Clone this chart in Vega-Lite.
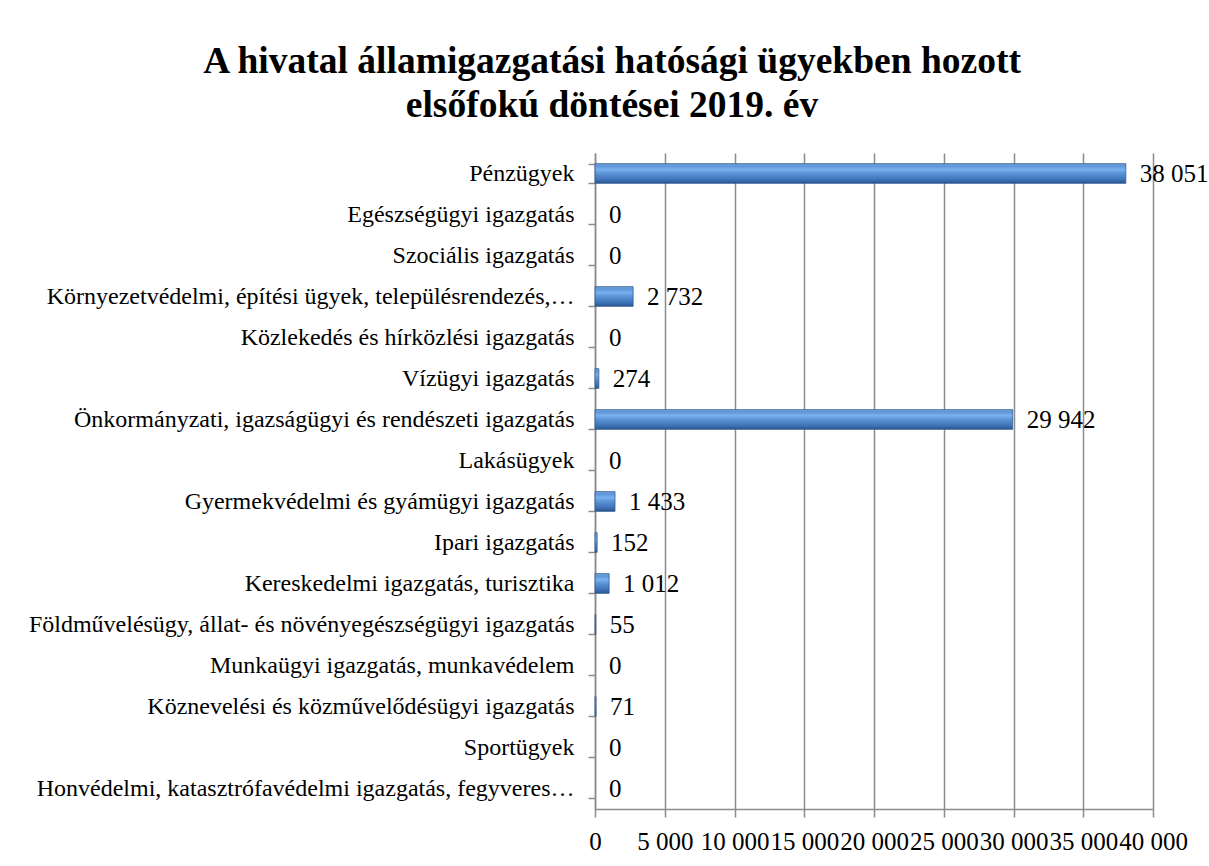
{
  "$schema": "https://vega.github.io/schema/vega-lite/v6.json",
  "width": 558,
  "height": 656,
  "autosize": {"type": "none"},
  "padding": {"left": 595, "top": 153, "right": 56, "bottom": 57},
  "background": "white",
  "title": {
    "text": ["A hivatal államigazgatási hatósági ügyekben hozott", "elsőfokú döntései 2019. év"],
    "font": "Liberation Serif",
    "fontSize": 37.5,
    "fontWeight": "bold",
    "color": "black",
    "anchor": "middle",
    "frame": "group",
    "dx": -262,
    "offset": 17,
    "lineHeight": 44
  },
  "config": {
    "locale": {"number": {"decimal": ",", "thousands": "\u00a0", "grouping": [3], "currency": ["", ""]}},
    "view": {"stroke": null},
    "font": "Liberation Serif"
  },
  "data": {
    "values": [
      {"kat": "Pénzügyek", "ertek": 38051},
      {"kat": "Egészségügyi igazgatás", "ertek": 0},
      {"kat": "Szociális igazgatás", "ertek": 0},
      {"kat": "Környezetvédelmi, építési ügyek, településrendezés,…", "ertek": 2732},
      {"kat": "Közlekedés és hírközlési igazgatás", "ertek": 0},
      {"kat": "Vízügyi igazgatás", "ertek": 274},
      {"kat": "Önkormányzati, igazságügyi és rendészeti igazgatás", "ertek": 29942},
      {"kat": "Lakásügyek", "ertek": 0},
      {"kat": "Gyermekvédelmi és gyámügyi igazgatás", "ertek": 1433},
      {"kat": "Ipari igazgatás", "ertek": 152},
      {"kat": "Kereskedelmi igazgatás, turisztika", "ertek": 1012},
      {"kat": "Földművelésügy, állat- és növényegészségügyi igazgatás", "ertek": 55},
      {"kat": "Munkaügyi igazgatás, munkavédelem", "ertek": 0},
      {"kat": "Köznevelési és közművelődésügyi igazgatás", "ertek": 71},
      {"kat": "Sportügyek", "ertek": 0},
      {"kat": "Honvédelmi, katasztrófavédelmi igazgatás, fegyveres…", "ertek": 0}
    ]
  },
  "encoding": {
    "y": {
      "field": "kat",
      "type": "nominal",
      "sort": ["Pénzügyek", "Egészségügyi igazgatás", "Szociális igazgatás", "Környezetvédelmi, építési ügyek, településrendezés,…", "Közlekedés és hírközlési igazgatás", "Vízügyi igazgatás", "Önkormányzati, igazságügyi és rendészeti igazgatás", "Lakásügyek", "Gyermekvédelmi és gyámügyi igazgatás", "Ipari igazgatás", "Kereskedelmi igazgatás, turisztika", "Földművelésügy, állat- és növényegészségügyi igazgatás", "Munkaügyi igazgatás, munkavédelem", "Köznevelési és közművelődésügyi igazgatás", "Sportügyek", "Honvédelmi, katasztrófavédelmi igazgatás, fegyveres…"],
      "scale": {"paddingInner": 0.52, "paddingOuter": 0.26},
      "axis": {
        "title": null,
        "tickBand": "extent",
        "domainColor": "#8c8c8c",
        "domainWidth": 1.5,
        "tickColor": "#8c8c8c",
        "tickWidth": 1.5,
        "tickSize": 7,
        "labelFont": "Liberation Serif",
        "labelFontSize": 24,
        "labelColor": "black",
        "labelPadding": 14,
        "labelLimit": 700,
        "grid": false
      }
    },
    "x": {
      "field": "ertek",
      "type": "quantitative",
      "scale": {"domain": [0, 40000], "nice": false},
      "axis": {
        "title": null,
        "values": [0, 5000, 10000, 15000, 20000, 25000, 30000, 35000, 40000],
        "format": ",d",
        "grid": true,
        "gridColor": "#8c8c8c",
        "gridWidth": 1.5,
        "domainColor": "#8c8c8c",
        "domainWidth": 1.5,
        "tickColor": "#8c8c8c",
        "tickWidth": 1.5,
        "tickSize": 8,
        "labelFont": "Liberation Serif",
        "labelFontSize": 25,
        "labelColor": "black",
        "labelPadding": 12,
        "labelOverlap": false,
        "labelFlush": false,
        "labelBound": false
      }
    }
  },
  "layer": [
    {
      "transform": [{"filter": "datum.ertek > 0"}],
      "mark": {
        "type": "bar",
        "stroke": "#2d5a92",
        "strokeWidth": 0.8,
        "color": {
          "gradient": "linear",
          "x1": 0, "y1": 0, "x2": 0, "y2": 1,
          "stops": [
            {"offset": 0, "color": "#7aa9dc"},
            {"offset": 0.12, "color": "#5d95d8"},
            {"offset": 0.3, "color": "#79b1ef"},
            {"offset": 0.5, "color": "#5a93d6"},
            {"offset": 0.8, "color": "#3f74b8"},
            {"offset": 1, "color": "#2b5590"}
          ]
        }
      }
    },
    {
      "mark": {
        "type": "text",
        "align": "left",
        "baseline": "middle",
        "dx": 14,
        "font": "Liberation Serif",
        "fontSize": 25,
        "color": "black"
      },
      "encoding": {
        "text": {"field": "ertek", "type": "quantitative", "format": ",d"}
      }
    }
  ]
}
